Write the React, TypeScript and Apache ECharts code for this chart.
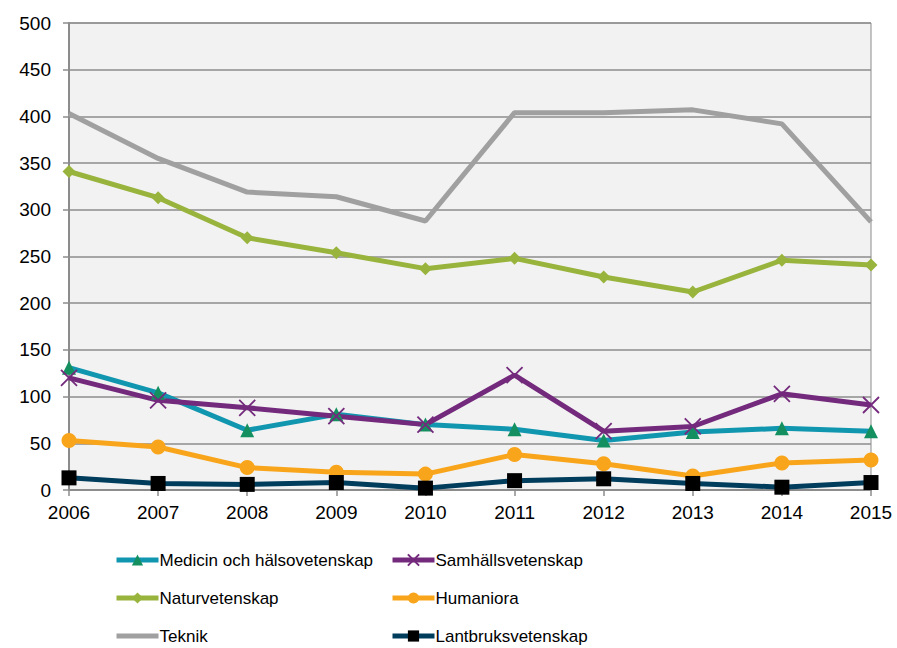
import React, { useEffect, useRef } from "react";
import * as echarts from "echarts";

const years = ["2006", "2007", "2008", "2009", "2010", "2011", "2012", "2013", "2014", "2015"];
const medicin = [131, 104, 64, 81, 70, 65, 53, 62, 66, 63];
const samhalls = [120, 96, 88, 79, 70, 123, 63, 68, 103, 91];
const natur = [341, 313, 270, 254, 237, 248, 228, 212, 246, 241];
const humaniora = [53, 46, 24, 19, 17, 38, 28, 15, 29, 32];
const teknik = [403, 355, 319, 314, 288, 404, 404, 407, 392, 287];
const lantbruk = [13, 7, 6, 8, 2, 10, 12, 7, 3, 8];

const names = [
  "Medicin och hälsovetenskap",
  "Samhällsvetenskap",
  "Naturvetenskap",
  "Humaniora",
  "Teknik",
  "Lantbruksvetenskap",
];

const FONT = "Liberation Sans, Arial, sans-serif";

export default function App() {
  const ref = useRef<HTMLDivElement>(null);
  useEffect(() => {
    if (!ref.current) return;
    const chart = echarts.init(ref.current, undefined, { renderer: "svg" });
    const lineBase = (name: string, data: number[], color: string) => ({
      name,
      type: "line",
      data,
      lineStyle: { color, width: 5 },
      emphasis: { disabled: true },
    });
    const legendCommon = {
      orient: "vertical",
      top: 551,
      padding: 0,
      itemWidth: 42,
      itemHeight: 14,
      itemGap: 20,
      lineStyle: { width: 5 },
      textStyle: {
        fontSize: 17,
        lineHeight: 18,
        color: "#000",
        fontFamily: FONT,
        padding: [0, 0, 0, -4],
      },
    };
    chart.setOption({
      animation: false,
      textStyle: { fontFamily: FONT },
      grid: {
        left: 69,
        right: 26,
        top: 23,
        bottom: 158,
        show: true,
        backgroundColor: "#f2f2f2",
        borderColor: "#8c8c8c",
        borderWidth: 1,
      },
      legend: [
        {
          ...legendCommon,
          data: [
            names[0],
            names[2],
            { name: names[4], icon: "path://M0,0L42,0L42,5L0,5Z" },
          ],
          left: 114,
        },
        { ...legendCommon, data: [names[1], names[3], names[5]], left: 390 },
      ],
      xAxis: {
        type: "category",
        data: years,
        boundaryGap: false,
        axisLine: { lineStyle: { color: "#8c8c8c", width: 2 } },
        axisTick: { show: true, length: 6, lineStyle: { color: "#8c8c8c", width: 1.5 } },
        axisLabel: { fontSize: 19, color: "#000", margin: 13, fontFamily: FONT },
      },
      yAxis: {
        type: "value",
        min: 0,
        max: 500,
        interval: 50,
        axisLine: { show: true, lineStyle: { color: "#8c8c8c", width: 2 } },
        axisTick: { show: true, length: 6, lineStyle: { color: "#8c8c8c", width: 1.5 } },
        splitLine: { lineStyle: { color: "#8c8c8c", width: 1.5 } },
        axisLabel: { fontSize: 19, color: "#000", margin: 18, fontFamily: FONT },
      },
      series: [
        {
          ...lineBase(names[0], medicin, "#1196b0"),
          symbol: "triangle",
          symbolSize: 14,
          itemStyle: { color: "#149060", borderColor: "#1196b0", borderWidth: 0 },
        },
        {
          ...lineBase(names[1], samhalls, "#742a7c"),
          symbol: "path://M0,0L10,10M10,0L0,10",
          symbolSize: 16,
          itemStyle: { color: "none", borderColor: "#742a7c", borderWidth: 1.8 },
        },
        {
          ...lineBase(names[2], natur, "#98b43c"),
          symbol: "diamond",
          symbolSize: 13,
          itemStyle: { color: "#98b43c" },
        },
        {
          ...lineBase(names[3], humaniora, "#f9a51b"),
          symbol: "circle",
          symbolSize: 15,
          itemStyle: { color: "#f9a51b" },
        },
        {
          ...lineBase(names[4], teknik, "#a0a0a0"),
          symbol: "none",
          itemStyle: { color: "#a0a0a0" },
        },
        {
          ...lineBase(names[5], lantbruk, "#003c5c"),
          symbol: "rect",
          symbolSize: 15,
          itemStyle: { color: "#000" },
        },
      ],
    });
    return () => chart.dispose();
  }, []);
  return <div ref={ref} style={{ width: 897, height: 648, position: "absolute", left: 0, top: 0 }} />;
}
